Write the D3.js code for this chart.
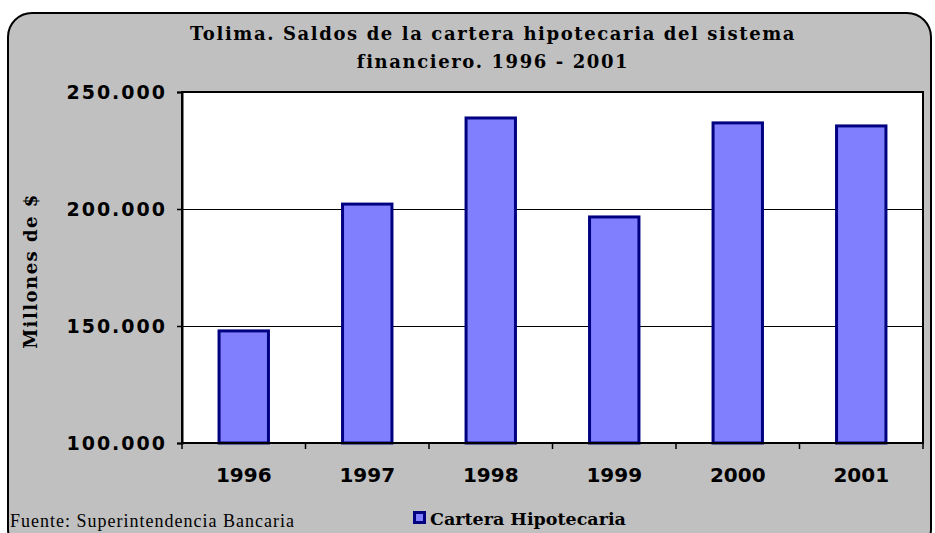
<!DOCTYPE html>
<html>
<head>
<meta charset="utf-8">
<script src="https://cdn.jsdelivr.net/npm/d3@7"></script>
<style>
  body { margin: 0; background: #fff; }
  svg { display: block; }
</style>
</head>
<body>
<svg id="chart" width="935" height="533"></svg>
<script>
// Data (millones de $)
const years = ["1996", "1997", "1998", "1999", "2000", "2001"];
const saldos = [147900, 202100, 238900, 196600, 236800, 235500];
const yTicks = [100000, 150000, 200000, 250000];
const yTickLabels = ["100.000", "150.000", "200.000", "250.000"];
const titleLines = ["Tolima. Saldos de la cartera hipotecaria del sistema", "financiero. 1996 - 2001"];

const svg = d3.select("#chart"),
      margin = { top: 92, right: 12, bottom: 90, left: 182 },
      width = 935 - margin.left - margin.right,
      height = 533 - margin.top - margin.bottom;

// outer rounded frame
svg.append("rect")
    .attr("x", 8).attr("y", 13)
    .attr("width", 923).attr("height", 540)
    .attr("rx", 24).attr("ry", 24)
    .attr("fill", "#c0c0c0")
    .attr("stroke", "#000")
    .attr("stroke-width", 2);

// title
svg.append("text")
    .attr("text-anchor", "middle")
    .style("font-family", "'DejaVu Serif', serif")
    .style("font-weight", "bold")
    .style("font-size", "18px")
    .style("letter-spacing", "1.6px")
    .selectAll("tspan")
    .data(titleLines)
    .enter().append("tspan")
    .attr("x", 493)
    .attr("y", (d, i) => 40 + i * 28)
    .text(d => d);

const chart = svg.append("g")
    .attr("transform", `translate(${margin.left},${margin.top})`);

const x = d3.scaleBand().domain(years).range([0, width]).paddingInner(0.6).paddingOuter(0.3);
const xCat = d3.scaleBand().domain(years).range([0, width]);
const y = d3.scaleLinear().domain([100000, 250000]).range([height, 0]);

// plot area
chart.append("rect")
    .attr("width", width).attr("height", height)
    .attr("fill", "#fff");

// gridlines
chart.selectAll(".grid")
    .data(yTicks)
    .enter().append("line")
    .attr("x1", 0).attr("x2", width)
    .attr("y1", d => Math.round(y(d)) + 0.5).attr("y2", d => Math.round(y(d)) + 0.5)
    .attr("stroke", "#000").attr("stroke-width", 1)
    .attr("shape-rendering", "crispEdges");

// bars
chart.selectAll(".bar")
    .data(saldos)
    .enter().append("rect")
    .attr("class", "bar")
    .attr("x", (d, i) => x(years[i]))
    .attr("y", d => y(d))
    .attr("width", x.bandwidth())
    .attr("height", d => height - y(d))
    .attr("fill", "#8080ff")
    .attr("stroke", "#000080")
    .attr("stroke-width", 3);

// plot border
chart.append("rect")
    .attr("width", width).attr("height", height)
    .attr("fill", "none")
    .attr("stroke", "#000").attr("stroke-width", 2);

// y axis
const yAxis = chart.append("g")
    .call(d3.axisLeft(y).tickValues(yTicks).tickSize(5).tickPadding(10)
        .tickFormat((d, i) => yTickLabels[i]));
yAxis.select(".domain").attr("stroke-width", 2);
yAxis.selectAll("line").attr("stroke-width", 1.5);
yAxis.selectAll("text")
    .style("font-family", "'DejaVu Sans', sans-serif")
    .style("font-weight", "bold")
    .style("font-size", "19px")
    .style("letter-spacing", "2px")
    .attr("fill", "#000");

// x axis: ticks at category boundaries, labels centered
const xAxis = chart.append("g")
    .attr("transform", `translate(0,${height})`);
xAxis.append("line")
    .attr("x1", 0).attr("x2", width)
    .attr("stroke", "#000").attr("stroke-width", 2);
xAxis.selectAll(".xtick")
    .data(d3.range(years.length + 1))
    .enter().append("line")
    .attr("x1", i => i * xCat.step())
    .attr("x2", i => i * xCat.step())
    .attr("y1", 0).attr("y2", 6)
    .attr("stroke", "#000").attr("stroke-width", 1.5);
xAxis.selectAll(".xlabel")
    .data(years)
    .enter().append("text")
    .attr("x", d => xCat(d) + xCat.bandwidth() / 2)
    .attr("y", 39)
    .attr("text-anchor", "middle")
    .style("font-family", "'DejaVu Sans', sans-serif")
    .style("font-weight", "bold")
    .style("font-size", "20px")
    .text(d => d);

// y axis title
svg.append("text")
    .attr("transform", "translate(37,271) rotate(-90)")
    .attr("text-anchor", "middle")
    .style("font-family", "'DejaVu Serif', serif")
    .style("font-weight", "bold")
    .style("font-size", "18px")
    .style("letter-spacing", "1.5px")
    .text("Millones de $");

// legend
const legend = svg.append("g").attr("transform", "translate(413,511)");
legend.append("rect")
    .attr("x", 1.5).attr("y", 1.5).attr("width", 10).attr("height", 10)
    .attr("fill", "#8080ff").attr("stroke", "#000080").attr("stroke-width", 3);
legend.append("text")
    .attr("x", 17).attr("y", 14)
    .style("font-family", "'DejaVu Serif', serif")
    .style("font-weight", "bold")
    .style("font-size", "17.5px")
    .text("Cartera Hipotecaria");

// source note
svg.append("text")
    .attr("x", 10).attr("y", 527)
    .style("font-family", "'Liberation Serif', serif")
    .style("font-size", "18px")
    .style("letter-spacing", "1px")
    .text("Fuente: Superintendencia Bancaria");
</script>
</body>
</html>
